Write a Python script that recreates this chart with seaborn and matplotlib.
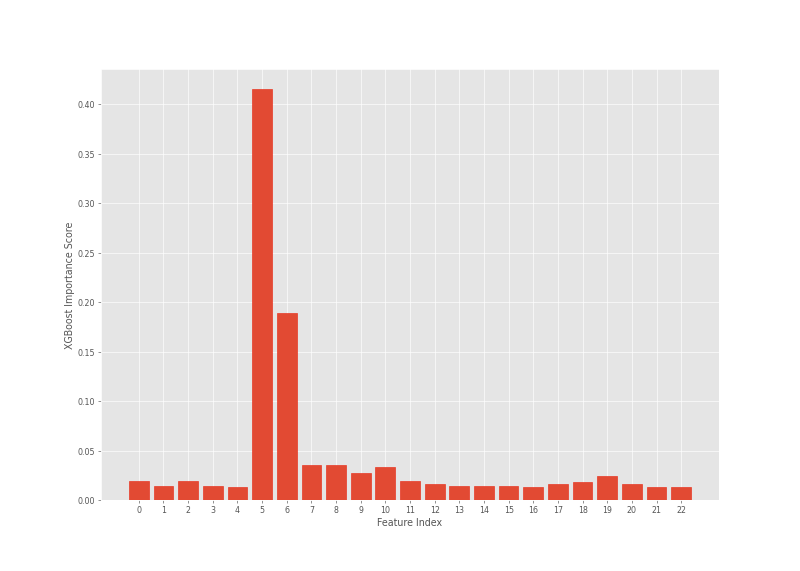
"""
Importância das features (XGBoost) — gráfico de barras em estilo ggplot.
"""

import matplotlib
matplotlib.use("Agg")

import matplotlib.pyplot as plt
import pandas as pd
import seaborn as sns

# valores
feature_index = list(range(23))
importance = [0.0195, 0.0145, 0.0189, 0.0141, 0.0135, 0.415, 0.189, 0.0357,
              0.0357, 0.0276, 0.0333, 0.0189, 0.0165, 0.0141, 0.0141, 0.0141,
              0.0131, 0.0165, 0.0182, 0.0242, 0.0165, 0.0131, 0.0131]

df = pd.DataFrame({"feature": feature_index, "score": importance})

plt.style.use("ggplot")
fig, ax = plt.subplots(figsize=(14, 10), dpi=800 / 14)
fig.subplots_adjust(left=0.126, right=0.899, top=0.879, bottom=0.124)

sns.barplot(data=df, x="feature", y="score", ax=ax, color="#E24A33",
            saturation=1, width=0.8, edgecolor="#E8301C", linewidth=0.8)

# seaborn desliga a grade vertical em eixos categóricos
ax.grid(True, axis="both", color="white")
ax.set_axisbelow(True)

ax.set_xlim(-1.54, 23.54)
ax.set_ylim(0, 0.436)
ax.set_yticks([i * 0.05 for i in range(9)])
ax.set_yticklabels([f"{i * 0.05:.2f}" for i in range(9)])
ax.set_xlabel("Feature Index")
ax.set_ylabel("XGBoost Importance Score")

plt.savefig("out.png", dpi=800 / 14)
plt.close()
